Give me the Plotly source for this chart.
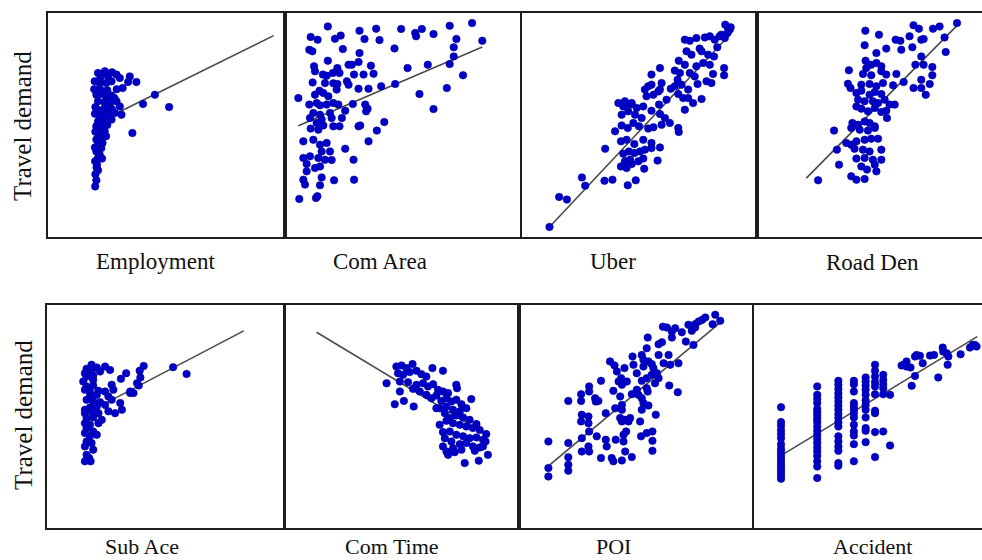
import plotly.graph_objects as go

# ---------------- data (arbitrary units 0-100) -------------
panel_names = ["Employment", "Com Area", "Uber", "Road Den",
               "Sub Ace", "Com Time", "POI", "Accident"]
y_title = "Travel demand"

employment_x = [21.1, 23.2, 25.4, 28.9, 30.3, 19.7, 21.8, 24.6, 26.8, 34.5, 33.8, 37.3,
                20.4, 22.5, 24.6, 26.8, 21.1, 23.9, 28.9, 26.1, 30.3, 40.1, 45.1, 51.1, 35.6,
                21.1, 23.2, 25.4, 28.2, 31.0, 21.8, 23.9, 26.8, 21.1, 20.4, 22.5, 23.9, 21.1,
                22.5, 20.4, 21.1, 22.5, 20.4, 21.8, 21.1, 19.9, 20.7, 21.1, 20.4, 19.9,
                19.5, 22.0, 25.0, 20.0, 24.0, 27.0, 19.8, 22.8, 25.0, 20.0, 23.0, 19.8, 22.8,
                20.5, 20.0, 24.5, 26.0, 28.0, 29.0, 31.5, 25.5, 22.0, 24.0, 27.0]
employment_y = [73.2, 72.5, 71.7, 72.5, 71.0, 69.5, 68.8, 68.8, 69.5, 71.7, 69.2, 69.2,
                63.5, 63.8, 62.8, 63.2, 60.6, 60.3, 60.6, 59.1, 58.3, 59.4, 63.5, 58.0, 46.4,
                56.8, 56.1, 56.4, 55.4, 54.6, 53.9, 53.1, 52.4, 51.6, 49.4, 48.7, 47.2, 46.4,
                44.9, 43.5, 41.2, 39.7, 38.2, 36.8, 35.3, 33.8, 32.3, 29.8, 25.3, 22.6,
                66.0, 66.0, 65.5, 58.0, 58.0, 57.0, 55.0, 51.0, 50.0, 47.0, 42.0, 40.0, 35.0,
                31.0, 28.0, 45.0, 54.0, 62.0, 66.0, 66.5, 61.0, 70.5, 74.0, 73.5]
employment_fit_x = [20.4, 95.2]
employment_fit_y = [50.8, 89.9]

comarea_x = [18.0, 31.3, 38.3, 48.8, 54.7, 57.5, 62.4, 69.2, 78.6, 82.9, 72.0, 70.9, 10.8,
             13.7, 21.0, 23.4, 33.4, 39.7, 55.1, 10.2, 11.5, 24.3, 31.3, 46.0, 70.9, 69.2,
             74.8, 60.0, 51.5, 68.0, 56.5, 62.4, 18.0, 12.2, 12.6, 15.9, 17.5, 20.1, 22.0,
             22.9, 26.7, 28.1, 30.9, 36.1, 29.0, 33.0, 37.2, 11.6, 16.8, 20.3, 22.0, 26.0,
             26.7, 30.9, 35.1, 40.4, 46.3, 5.6, 12.6, 14.5, 16.1, 18.2, 21.7, 13.3, 10.2,
             14.7, 17.5, 20.3, 22.4, 28.5, 33.7, 34.7, 34.1, 25.3, 18.9, 14.7, 11.9, 10.5,
             15.4, 19.6, 23.9, 13.3, 16.1, 20.3, 22.9, 30.9, 31.6, 41.7, 38.6, 35.1, 10.8,
             14.0, 7.7, 11.9, 14.7, 17.5, 25.3, 15.4, 18.9, 7.7, 10.5, 14.0, 16.8, 19.6,
             9.1, 12.6, 14.7, 9.1, 28.8, 7.7, 15.4, 20.6, 29.0, 8.4, 14.7, 6.0, 13.0, 13.6]
comarea_y = [94.0, 92.1, 93.0, 92.9, 91.1, 92.9, 90.6, 94.3, 95.5, 87.6, 88.4, 84.7, 89.3,
             88.1, 88.5, 89.9, 88.4, 87.9, 89.6, 83.6, 82.9, 83.9, 82.1, 84.2, 80.6, 77.2,
             72.2, 76.9, 75.4, 66.5, 63.8, 57.1, 78.7, 76.2, 74.0, 72.5, 72.0, 73.2, 75.4,
             73.2, 76.9, 76.9, 78.1, 76.5, 72.5, 72.5, 72.9, 69.0, 68.7, 68.6, 68.3, 69.5,
             68.0, 66.2, 66.2, 67.3, 68.3, 62.0, 63.5, 65.3, 64.3, 62.8, 65.8, 59.8, 59.1,
             58.8, 59.1, 59.8, 59.1, 59.4, 59.1, 57.3, 56.1, 56.4, 55.4, 54.6, 55.4, 53.1,
             52.4, 53.1, 53.1, 50.9, 49.8, 49.4, 49.4, 49.4, 49.8, 51.3, 47.5, 42.7, 48.4,
             47.9, 42.7, 43.4, 41.2, 42.0, 39.4, 38.2, 38.2, 35.3, 36.0, 35.3, 34.5, 34.4,
             32.6, 30.8, 31.5, 29.3, 34.5, 25.6, 26.6, 25.3, 25.6, 23.4, 23.1, 17.0, 17.4, 18.2]
comarea_fit_x = [5.6, 82.9]
comarea_fit_y = [49.7, 84.8]

uber_x = [11.7, 15.8, 19.1, 25.5, 26.9, 35.1, 38.5, 35.4, 45.0, 48.4, 42.1, 44.5, 46.7, 52.0,
          43.8, 46.0, 49.5, 51.6, 57.7, 43.1, 45.5, 47.8, 50.2, 52.3, 55.1, 58.7, 42.1, 44.5,
          47.8, 51.6, 55.1, 39.6, 42.4, 45.0, 47.4, 49.8, 53.7, 55.9, 59.4, 62.9, 66.5, 66.7,
          42.4, 45.2, 48.1, 50.9, 55.1, 58.7, 60.8, 43.1, 46.0, 48.8, 51.6, 58.3, 61.5, 41.0,
          43.8, 46.7, 53.0, 55.9, 58.7, 63.3, 66.5, 68.6, 70.7, 72.8, 76.4, 69.3, 53.7, 55.1,
          58.0, 52.3, 59.4, 65.0, 67.9, 70.7, 74.7, 80.6, 66.2, 67.2, 65.0, 69.3, 71.4, 73.5,
          74.2, 77.1, 79.9, 55.1, 58.7, 66.7, 70.0, 72.1, 75.6, 76.4, 79.2, 81.7, 86.0, 86.0,
          81.3, 69.3, 71.4, 74.2, 77.8, 79.9, 82.0, 84.1, 86.3, 83.1, 86.5, 87.7, 88.4, 88.8,
          84.8, 87.4, 78.5]
uber_y = [4.5, 17.9, 16.7, 26.6, 22.9, 25.1, 25.6, 39.4, 23.1, 25.3, 31.5, 30.8, 32.6, 30.5,
          33.8, 34.5, 33.8, 35.0, 34.1, 37.2, 38.2, 37.5, 38.2, 39.0, 39.7, 40.0, 42.7, 43.4,
          41.5, 43.4, 42.0, 47.2, 49.8, 48.7, 50.9, 49.4, 48.4, 49.0, 50.1, 50.9, 48.7, 46.9,
          54.6, 56.1, 54.6, 53.1, 56.4, 54.9, 53.1, 58.3, 59.1, 57.6, 58.3, 59.1, 61.3, 59.8,
          60.6, 59.8, 62.8, 63.5, 65.8, 66.2, 63.8, 62.0, 62.0, 59.8, 61.6, 56.8, 67.3, 68.0,
          65.0, 65.8, 68.7, 67.3, 68.0, 65.8, 68.3, 68.7, 70.2, 73.2, 74.3, 76.9, 73.2, 71.7,
          76.2, 77.7, 76.9, 72.5, 75.4, 78.7, 82.9, 81.4, 84.1, 82.9, 81.4, 80.6, 75.4, 72.2,
          72.8, 88.1, 87.6, 88.8, 89.1, 89.6, 88.1, 89.6, 88.8, 84.7, 94.8, 93.3, 92.6, 93.6,
          90.3, 91.1, 69.5]
uber_fit_x = [12.0, 89.1]
uber_fit_y = [4.8, 91.1]

roadden_x = [46.1, 51.9, 45.8, 59.0, 61.0, 64.9, 66.6, 68.9, 74.9, 77.7, 85.1, 79.8, 69.9,
             70.9, 66.1, 61.4, 55.0, 50.8, 80.3, 46.2, 48.6, 50.8, 52.9, 46.5, 52.9, 55.0,
             59.3, 45.1, 48.6, 39.1, 38.7, 44.4, 47.9, 50.8, 53.6, 57.9, 62.4, 67.4, 69.9,
             70.9, 74.6, 74.6, 69.9, 66.6, 69.9, 73.5, 71.8, 42.3, 44.4, 47.9, 50.1, 52.9,
             43.0, 45.8, 49.3, 51.5, 54.3, 58.6, 42.3, 44.4, 47.2, 50.1, 52.9, 55.0, 40.6,
             43.0, 45.8, 47.9, 50.1, 40.1, 43.7, 47.2, 50.1, 55.3, 32.8, 38.0, 40.1, 42.3,
             45.8, 48.6, 51.5, 34.0, 41.5, 45.1, 47.9, 52.9, 42.3, 45.8, 49.3, 52.9, 34.9,
             44.4, 50.1, 50.8, 46.8, 40.1, 42.3, 45.8, 26.0, 39.8, 56.4]
roadden_y = [92.1, 90.3, 85.6, 88.1, 87.6, 89.6, 94.5, 93.0, 93.0, 94.0, 95.5, 89.1, 88.1,
             88.4, 84.7, 83.6, 84.1, 82.1, 82.6, 78.7, 76.9, 77.7, 76.2, 75.4, 74.0, 72.5,
             72.8, 72.8, 72.2, 74.4, 68.4, 68.0, 68.3, 67.3, 68.7, 67.7, 69.2, 76.9, 80.6,
             76.9, 75.9, 72.2, 70.2, 66.5, 66.5, 68.3, 63.5, 64.3, 65.3, 63.5, 64.7, 63.8,
             61.3, 60.6, 60.6, 59.8, 61.3, 59.1, 58.3, 57.3, 56.1, 57.6, 55.8, 56.4, 50.9,
             50.1, 51.6, 50.9, 49.4, 48.7, 47.9, 47.5, 48.7, 53.1, 47.5, 42.0, 41.2, 42.7,
             43.4, 43.9, 43.9, 39.0, 39.4, 39.0, 38.2, 39.0, 35.0, 35.3, 34.5, 34.5, 32.3,
             31.5, 32.3, 29.3, 30.1, 27.1, 25.6, 25.9, 25.3, 66.5, 59.1]
roadden_fit_x = [21.0, 85.5]
roadden_fit_y = [26.3, 94.8]

subace_x = [18.8, 16.7, 21.0, 24.5, 26.6, 16.0, 18.8, 22.4, 16.7, 19.5, 31.2, 33.4, 39.1,
            40.8, 53.2, 58.9, 39.4, 38.0, 38.7, 36.5, 35.1, 16.7, 19.5, 16.0, 18.1, 21.7,
            24.5, 28.0, 18.1, 21.0, 25.9, 27.3, 16.7, 19.5, 22.4, 30.9, 16.0, 18.1, 21.0,
            24.5, 31.6, 28.7, 16.0, 18.8, 21.7, 25.9, 16.7, 19.5, 23.1, 16.0, 18.1, 21.7,
            16.7, 19.5, 16.0, 18.1, 21.0, 16.7, 18.8, 16.0, 19.5, 16.7, 17.8, 16.0, 18.4,
            35.1, 27.3, 15.3, 19.5]
subace_y = [73.2, 71.4, 72.0, 72.4, 70.9, 69.4, 69.9, 70.2, 67.9, 68.4, 66.9, 69.4, 70.5,
            72.7, 72.1, 69.1, 67.5, 64.9, 63.9, 60.5, 60.5, 63.5, 63.9, 62.0, 61.2, 61.5,
            61.2, 62.0, 59.0, 59.7, 59.0, 57.5, 57.5, 56.7, 56.4, 56.0, 53.0, 54.0, 54.5,
            55.2, 53.0, 51.5, 51.5, 52.3, 51.5, 52.3, 49.3, 49.6, 48.5, 47.0, 46.3, 47.0,
            44.8, 43.3, 42.6, 41.1, 41.8, 38.8, 38.1, 36.6, 35.1, 32.8, 31.4, 29.9, 29.9,
            61.2, 64.2, 65.7, 66.4]
subace_fit_x = [16.7, 83.0]
subace_fit_y = [51.5, 88.4]

comtime_x = [43.4, 47.6, 49.8, 51.9, 54.5, 48.3, 50.5, 53.3, 56.2, 58.3, 60.4, 63.0, 67.5,
             49.1, 52.6, 54.7, 56.2, 59.0, 61.1, 63.3, 65.4, 67.5, 69.7, 73.2, 73.5, 46.9,
             50.8, 55.0, 49.1, 57.6, 60.4, 62.6, 64.7, 66.8, 69.0, 71.1, 73.2, 75.4, 79.6,
             66.1, 69.0, 71.8, 74.7, 77.5, 68.3, 70.4, 73.2, 76.1, 78.9, 81.8, 69.0, 71.8,
             74.7, 77.5, 80.3, 83.2, 86.0, 67.5, 70.4, 73.2, 76.1, 78.9, 81.8, 84.6, 85.7,
             68.3, 71.1, 74.7, 77.5, 80.3, 83.2, 71.8, 75.4, 81.1, 84.6, 67.5, 69.0, 69.7,
             72.5, 86.7, 76.8, 82.8, 66.1, 64.7]
comtime_y = [64.9, 72.4, 72.9, 71.7, 73.5, 69.4, 68.7, 69.9, 70.5, 69.0, 67.9, 71.7, 70.5,
             65.7, 65.4, 62.4, 64.2, 64.9, 63.5, 64.5, 62.0, 61.2, 60.5, 64.2, 62.7, 55.5,
             57.0, 54.5, 61.2, 61.2, 59.7, 58.2, 59.4, 57.0, 58.2, 56.7, 57.5, 55.5, 57.8,
             53.7, 54.5, 53.0, 52.3, 53.7, 51.5, 49.3, 50.5, 49.6, 48.5, 46.6, 48.1, 47.0,
             46.3, 45.5, 44.8, 44.0, 42.1, 43.0, 43.3, 41.8, 41.1, 40.3, 40.6, 39.6, 38.8,
             40.3, 38.8, 37.6, 38.1, 36.6, 36.1, 35.8, 35.1, 34.6, 36.6, 36.6, 34.3, 32.8,
             34.0, 32.8, 29.1, 30.2, 46.3, 53.7]
comtime_fit_x = [13.5, 85.7]
comtime_fit_y = [87.8, 42.1]

poi_x = [12.4, 12.4, 12.4, 20.8, 20.8, 20.8, 20.8, 20.8, 26.2, 26.2, 26.5, 26.2, 26.5, 26.5,
         29.6, 29.6, 29.3, 29.3, 29.6, 29.3, 29.6, 32.1, 32.4, 33.5, 34.6, 32.8, 34.6, 36.6,
         36.6, 37.0, 39.1, 39.8, 38.4, 40.3, 41.3, 39.8, 40.6, 40.8, 42.0, 43.1, 42.7, 43.4,
         43.4, 43.4, 42.7, 43.4, 44.1, 44.1, 44.8, 46.2, 46.9, 45.2, 44.8, 43.4, 47.6, 44.5,
         45.5, 47.6, 47.9, 48.3, 49.7, 49.7, 50.4, 51.8, 52.5, 52.5, 51.8, 51.8, 52.5, 51.8,
         51.1, 51.5, 53.9, 53.9, 54.3, 54.6, 53.9, 53.9, 54.3, 54.6, 56.0, 56.0, 56.7, 58.2,
         58.9, 57.4, 57.7, 56.3, 56.3, 56.3, 58.9, 60.3, 58.9, 61.0, 63.1, 63.8, 64.5, 60.7,
         62.4, 65.9, 64.5, 63.4, 67.0, 67.3, 68.7, 70.4, 73.6, 72.9, 74.3, 74.3, 75.8, 77.2,
         78.6, 82.8, 84.9, 81.7, 71.5]
poi_y = [38.8, 26.9, 23.1, 57.0, 38.1, 31.7, 28.4, 25.7, 60.0, 57.0, 50.8, 47.8, 40.3, 34.3,
         63.5, 61.2, 50.0, 47.0, 43.3, 36.6, 34.3, 58.2, 56.7, 57.0, 66.0, 41.1, 31.4, 51.5,
         39.6, 36.6, 31.4, 29.9, 74.7, 72.9, 70.2, 61.5, 53.7, 39.6, 65.7, 67.2, 59.0, 64.2,
         55.2, 53.0, 49.3, 47.8, 41.8, 38.8, 48.5, 47.8, 49.3, 43.3, 34.3, 30.3, 31.8, 71.7,
         65.7, 60.0, 76.9, 73.2, 69.4, 62.0, 59.7, 77.6, 75.4, 72.4, 66.0, 58.2, 56.0, 53.0,
         47.8, 41.1, 42.6, 80.6, 85.4, 74.7, 67.2, 62.7, 61.2, 54.9, 73.5, 68.7, 71.7, 69.4,
         67.2, 64.9, 50.8, 43.3, 39.1, 34.6, 82.4, 83.3, 77.6, 73.9, 77.6, 73.2, 85.4, 90.3,
         89.9, 89.6, 88.1, 63.9, 60.9, 73.9, 87.8, 83.6, 82.1, 88.4, 89.9, 91.4, 92.6, 93.3,
         94.4, 95.6, 92.9, 91.4, 91.1]
poi_fit_x = [13.1, 84.5]
poi_fit_y = [28.4, 91.8]

accident_x = ([11.5] * 17 + [26.9] * 20 + [35.9] * 18 + [42.5] * 13 + [47.5] * 12
              + [51.5] * 10 + [55.0] * 6 + [57.9] * 2
              + [62.8, 64.9, 66.6, 68.5, 69.2, 70.6, 71.8, 68.5, 67.1, 74.9, 76.6, 78.4,
                 80.3, 80.5, 82.0, 82.7, 82.4, 87.9, 91.9, 93.0, 94.0, 94.7, 64.9, 63.8])
accident_y = [54.2, 47.5, 46.0, 44.0, 42.1, 40.3, 37.6, 35.5, 34.0, 32.5, 31.1, 29.6, 28.1,
              26.6, 25.1, 23.6, 22.1,
              63.5, 59.7, 57.9, 56.0, 53.4, 52.0, 50.5, 49.0, 47.5, 45.5, 43.6, 41.8, 40.0,
              38.1, 36.1, 34.3, 32.4, 29.9, 27.6, 22.4,
              66.0, 64.2, 62.3, 60.3, 58.5, 56.7, 54.8, 53.0, 51.1, 49.3, 47.3, 45.5, 41.1,
              38.8, 36.6, 34.6, 29.1, 27.9,
              66.0, 64.5, 61.2, 56.0, 54.5, 53.0, 51.5, 49.6, 46.3, 43.3, 41.5, 37.6, 29.9,
              67.5, 65.7, 63.9, 62.0, 59.7, 57.2, 55.2, 53.0, 49.6, 44.8, 43.6, 38.5,
              73.2, 70.5, 67.9, 65.4, 63.5, 60.0, 52.6, 51.5, 43.0, 31.8,
              68.7, 66.4, 64.5, 62.7, 60.0, 43.3,
              59.7, 37.0,
              72.9, 74.7, 72.0, 76.9, 77.6, 77.2, 73.9, 68.2, 63.8, 77.3, 77.6, 67.5,
              80.9, 79.1, 78.4, 76.9, 73.2, 77.9, 80.9, 82.1, 82.1, 81.4, 72.4, 73.2]
accident_fit_x = [12.5, 95.0]
accident_fit_y = [33.1, 85.8]

# ---------------- layout (pixel boxes of the eight panels) ----------------
W, H = 982, 560
boxes = [  # left, right, top, bottom in page pixels
    (48, 285, 13, 237), (285, 523, 13, 237), (522, 757, 13, 237), (757, 992, 13, 237),
    (47, 284, 305, 528), (285, 519, 305, 528), (519, 756, 305, 528), (754, 989, 305, 528),
]
xs = [employment_x, comarea_x, uber_x, roadden_x, subace_x, comtime_x, poi_x, accident_x]
ys = [employment_y, comarea_y, uber_y, roadden_y, subace_y, comtime_y, poi_y, accident_y]
fxs = [employment_fit_x, comarea_fit_x, uber_fit_x, roadden_fit_x,
       subace_fit_x, comtime_fit_x, poi_fit_x, accident_fit_x]
fys = [employment_fit_y, comarea_fit_y, uber_fit_y, roadden_fit_y,
       subace_fit_y, comtime_fit_y, poi_fit_y, accident_fit_y]
label_pos = [(155, 261), (380, 261), (613, 261), (872, 262),
             (142, 546), (392, 546), (613, 546), (872, 546)]
label_size = [23, 23, 23, 23, 22, 22, 22, 22]

fig = go.Figure()
layout_axes = {}
for i in range(8):
    n = "" if i == 0 else str(i + 1)
    l, r, t, b = boxes[i]
    right_px = min(r, W)
    xmax = 100.0 * (right_px - l) / (r - l)
    clipped = r > W
    layout_axes["xaxis" + n] = dict(
        domain=[l / W, right_px / W], range=[0, xmax], anchor="y" + n,
        showgrid=False, zeroline=False, showticklabels=False, ticks="",
        showline=True, mirror=True, linecolor="#1e1e1e", linewidth=2)
    layout_axes["yaxis" + n] = dict(
        domain=[1 - b / H, 1 - t / H], range=[0, 100], anchor="x" + n,
        showgrid=False, zeroline=False, showticklabels=False, ticks="",
        showline=True, mirror=(not clipped), linecolor="#1e1e1e", linewidth=2)
    fig.add_trace(go.Scatter(
        x=fxs[i], y=fys[i], mode="lines", xaxis="x" + n, yaxis="y" + n,
        line=dict(color="#4a4a4a", width=1.6), showlegend=False, hoverinfo="skip"))
    fig.add_trace(go.Scatter(
        x=xs[i], y=ys[i], mode="markers", xaxis="x" + n, yaxis="y" + n,
        marker=dict(color="#0000c8", size=7.5, line=dict(color="#00009a", width=0.6)),
        showlegend=False, name=panel_names[i]))

annotations = []
for i in range(8):
    px, py = label_pos[i]
    annotations.append(dict(
        text=panel_names[i], x=px / W, y=1 - py / H, xref="paper", yref="paper",
        showarrow=False, xanchor="center", yanchor="middle",
        font=dict(family="Liberation Serif, Times New Roman, serif",
                  size=label_size[i], color="#111")))
for py in (126, 415):
    annotations.append(dict(
        text=y_title, x=23 / W, y=1 - py / H, xref="paper", yref="paper",
        showarrow=False, xanchor="center", yanchor="middle", textangle=-90,
        font=dict(family="Liberation Serif, Times New Roman, serif", size=25, color="#111")))

fig.update_layout(
    width=W, height=H, margin=dict(l=0, r=0, t=0, b=0),
    paper_bgcolor="white", plot_bgcolor="white",
    annotations=annotations, **layout_axes)

fig.write_html("out.html")
